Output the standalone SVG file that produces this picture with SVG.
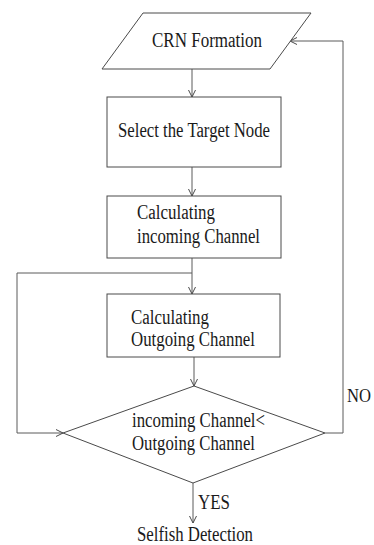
<svg xmlns="http://www.w3.org/2000/svg" width="374" height="545" viewBox="0 0 374 545">
<style>
.shape{fill:#fff;stroke:#4a4a4a;stroke-width:1}
.ln{fill:none;stroke:#5a5a5a;stroke-width:1}
.t{font-family:"Liberation Serif","Times New Roman",serif;font-size:20px;fill:#1a1a1a}
</style>
<defs>
<marker id="arr" markerUnits="userSpaceOnUse" markerWidth="10" markerHeight="10" refX="7" refY="4" orient="auto">
<path d="M0,0.5 L7,4 L0,7.5" fill="none" stroke="#4a4a4a" stroke-width="1"/>
</marker>
</defs>
<rect width="374" height="545" fill="#fff"/>
<g id="connectors">
<line class="ln" x1="192" y1="69" x2="192" y2="97" marker-end="url(#arr)"/>
<line class="ln" x1="192" y1="167" x2="192" y2="196" marker-end="url(#arr)"/>
<line class="ln" x1="192" y1="258" x2="192" y2="294" marker-end="url(#arr)"/>
<polyline class="ln" points="192,273 17,273 17,433 63,433" marker-end="url(#arr)"/>
<line class="ln" x1="194" y1="357" x2="194" y2="386" marker-end="url(#arr)"/>
<polyline class="ln" points="325,433 343,433 343,41 290,41" marker-end="url(#arr)"/>
<line class="ln" x1="193" y1="483" x2="193" y2="523" marker-end="url(#arr)"/>
<text class="t" x="347" y="402" style="font-size:18px" textLength="24" lengthAdjust="spacingAndGlyphs">NO</text>
<text class="t" x="198" y="509" textLength="32" lengthAdjust="spacingAndGlyphs">YES</text>
</g>
<g id="crn-formation">
<polygon class="shape" points="143,13 311,13 270,69 102,69"/>
<text class="t" x="152" y="47" textLength="110" lengthAdjust="spacingAndGlyphs">CRN Formation</text>
</g>
<g id="select-target">
<rect class="shape" x="107" y="97" width="174" height="70"/>
<text class="t" x="118" y="137" textLength="152" lengthAdjust="spacingAndGlyphs">Select the Target Node</text>
</g>
<g id="calc-incoming">
<rect class="shape" x="107" y="196" width="174" height="62"/>
<text class="t" x="137" y="219" textLength="78" lengthAdjust="spacingAndGlyphs">Calculating</text>
<text class="t" x="137" y="243" textLength="123" lengthAdjust="spacingAndGlyphs">incoming Channel</text>
</g>
<g id="calc-outgoing">
<rect class="shape" x="107" y="294" width="173" height="63"/>
<text class="t" x="131" y="324" textLength="78" lengthAdjust="spacingAndGlyphs">Calculating</text>
<text class="t" x="131" y="346" textLength="124" lengthAdjust="spacingAndGlyphs">Outgoing Channel</text>
</g>
<g id="decision">
<polygon class="shape" points="194,386 325,433 193,483 63,433"/>
<text class="t" x="132" y="427" textLength="133" lengthAdjust="spacingAndGlyphs">incoming Channel&lt;</text>
<text class="t" x="132" y="450" textLength="123" lengthAdjust="spacingAndGlyphs">Outgoing Channel</text>
</g>
<g id="selfish-detection">
<text class="t" x="137" y="541" textLength="116" lengthAdjust="spacingAndGlyphs">Selfish Detection</text>
</g>
</svg>
